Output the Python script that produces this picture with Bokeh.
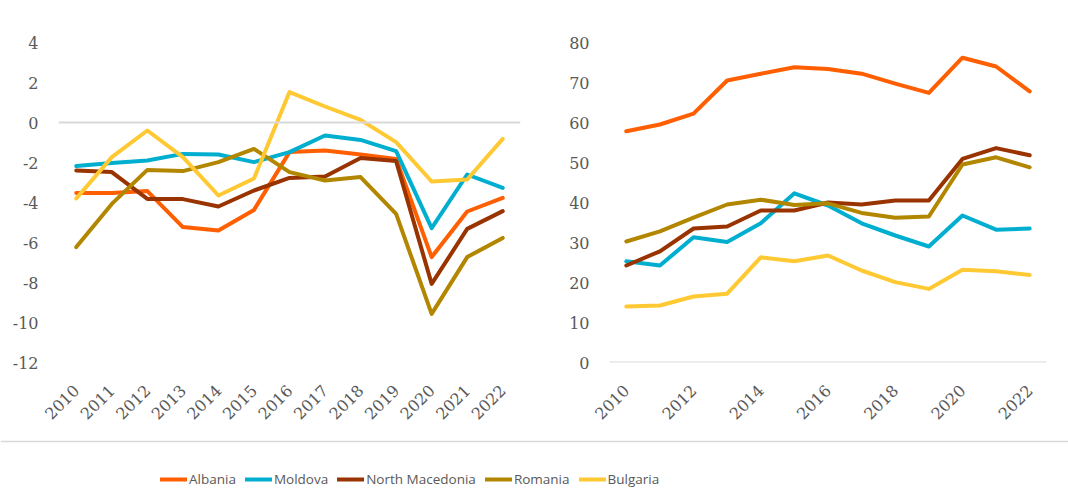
import math
from bokeh.plotting import figure
from bokeh.layouts import column, row
from bokeh.models import Range1d, FixedTicker, Span, Legend, LegendItem
from bokeh.embed import file_html
from bokeh.resources import INLINE

years = [2010, 2011, 2012, 2013, 2014, 2015, 2016, 2017, 2018, 2019, 2020, 2021, 2022]
countries = ["Albania", "Moldova", "North Macedonia", "Romania", "Bulgaria"]
colors = ["#FF5F00", "#00AECF", "#993300", "#B38600", "#FFC933"]

left_albania = [-3.53, -3.52, -3.43, -5.23, -5.4, -4.37, -1.48, -1.4, -1.6, -1.82, -6.73, -4.45, -3.77]
left_moldova = [-2.18, -2.03, -1.9, -1.57, -1.6, -1.98, -1.48, -0.65, -0.87, -1.43, -5.28, -2.6, -3.27]
left_nmk = [-2.4, -2.48, -3.82, -3.83, -4.2, -3.4, -2.77, -2.7, -1.77, -1.93, -8.07, -5.32, -4.43]
left_romania = [-6.23, -4.07, -2.37, -2.43, -1.98, -1.32, -2.48, -2.9, -2.73, -4.57, -9.57, -6.73, -5.77]
left_bulgaria = [-3.8, -1.73, -0.4, -1.73, -3.65, -2.8, 1.52, 0.8, 0.13, -0.98, -2.95, -2.85, -0.82]

right_albania = [57.8, 59.5, 62.2, 70.5, 72.2, 73.8, 73.4, 72.2, 69.7, 67.4, 76.2, 74.0, 67.8]
right_moldova = [25.3, 24.25, 31.3, 30.1, 34.8, 42.3, 39.25, 34.8, 31.75, 29.0, 36.75, 33.2, 33.5]
right_nmk = [24.25, 27.8, 33.5, 34.0, 38.0, 38.0, 40.0, 39.5, 40.5, 40.5, 50.9, 53.6, 51.8]
right_romania = [30.25, 32.8, 36.2, 39.5, 40.7, 39.4, 39.8, 37.4, 36.2, 36.5, 49.5, 51.3, 48.8]
right_bulgaria = [14.0, 14.25, 16.5, 17.2, 26.3, 25.3, 26.75, 23.0, 20.1, 18.4, 23.2, 22.8, 21.9]

left_yticks = [-12, -10, -8, -6, -4, -2, 0, 2, 4]
left_ylabels = ["-12", "-10", "-8", "-6", "-4", "-2", "0", "2", "4"]
right_yticks = [0, 10, 20, 30, 40, 50, 60, 70, 80]
right_ylabels = ["0", "10", "20", "30", "40", "50", "60", "70", "80"]
left_xticks = years
right_xticks = [2010, 2012, 2014, 2016, 2018, 2020, 2022]

TICK_FONT = "DejaVu Serif"
TEXT_COLOR = "#595959"
GRID_COLOR = "#D9D9D9"


def panel(width, mbl, mbr, yrange, yticks, ylabels, xticks, series):
    p = figure(width=width, height=430,
               x_range=Range1d(2009.5, 2022.5), y_range=Range1d(*yrange),
               min_border_left=mbl, min_border_right=mbr,
               min_border_top=42, min_border_bottom=68,
               toolbar_location=None, output_backend="svg")
    p.outline_line_color = None
    p.xgrid.visible = False
    p.ygrid.visible = False
    p.background_fill_color = None
    p.border_fill_color = None
    p.add_layout(Span(location=0, dimension="width", line_color=GRID_COLOR, line_width=2))
    for vals, col in zip(series, colors):
        p.line(years, vals, line_color=col, line_width=4, line_cap="round", line_join="round")
    ax = p.yaxis[0]
    ax.ticker = FixedTicker(ticks=yticks)
    ax.major_label_overrides = {t: l for t, l in zip(yticks, ylabels)}
    xa = p.xaxis[0]
    xa.ticker = FixedTicker(ticks=xticks)
    xa.major_label_overrides = {y: str(y) for y in xticks}
    xa.major_label_orientation = math.pi / 4
    for a in (ax, xa):
        a.axis_line_color = None
        a.major_tick_line_color = None
        a.minor_tick_line_color = None
        a.major_tick_out = 0
        a.major_tick_in = 0
        a.minor_tick_out = 0
        a.minor_tick_in = 0
        a.major_label_text_font = TICK_FONT
        a.major_label_text_font_size = "16px"
        a.major_label_text_color = TEXT_COLOR
    ax.major_label_standoff = 20
    xa.major_label_standoff = 25
    return p


p1 = panel(560, 58, 40, (-12, 4), left_yticks, left_ylabels, left_xticks,
           [left_albania, left_moldova, left_nmk, left_romania, left_bulgaria])
p2 = panel(508, 49, 22, (0, 80), right_yticks, right_ylabels, right_xticks,
           [right_albania, right_moldova, right_nmk, right_romania, right_bulgaria])

p3 = figure(width=1068, height=59, x_range=Range1d(0, 1068), y_range=Range1d(0, 59),
            min_border=0, toolbar_location=None, output_backend="svg")
p3.outline_line_color = None
p3.axis.visible = False
p3.grid.visible = False
p3.background_fill_color = None
p3.border_fill_color = None
p3.add_layout(Span(location=48, dimension="width", line_color=GRID_COLOR, line_width=1.5))
items = []
for name, col in zip(countries, colors):
    r = p3.line(x=[float("nan")], y=[float("nan")], line_color=col, line_width=4, line_cap="round")
    items.append(LegendItem(label=name, renderers=[r]))
legend = Legend(items=items, orientation="horizontal", location=(160, 0),
                glyph_width=27, glyph_height=20, label_height=20, label_standoff=2,
                spacing=9, padding=0, margin=0, border_line_color=None,
                background_fill_alpha=0,
                label_text_font="Open Sans", label_text_font_size="13.5px",
                label_text_color=TEXT_COLOR)
p3.add_layout(legend, "center")

layout = column(row(p1, p2), p3)
open("out.html", "w").write(file_html(layout, INLINE))
